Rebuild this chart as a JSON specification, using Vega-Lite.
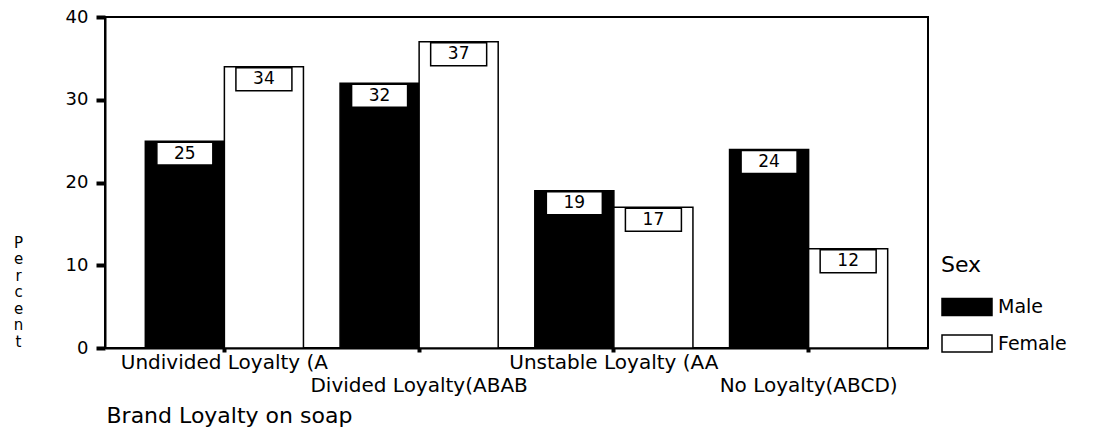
{
  "$schema": "https://vega.github.io/schema/vega-lite/v6.json",
  "width": 823,
  "height": 331,
  "autosize": {"type": "none"},
  "padding": {"left": 105, "top": 17, "right": 171, "bottom": 89},
  "background": "white",
  "data": {
    "values": [
      {"loyalty": "Undivided Loyalty (A", "sex": "Male", "percent": 25},
      {"loyalty": "Undivided Loyalty (A", "sex": "Female", "percent": 34},
      {"loyalty": "Divided Loyalty(ABAB", "sex": "Male", "percent": 32},
      {"loyalty": "Divided Loyalty(ABAB", "sex": "Female", "percent": 37},
      {"loyalty": "Unstable Loyalty (AA", "sex": "Male", "percent": 19},
      {"loyalty": "Unstable Loyalty (AA", "sex": "Female", "percent": 17},
      {"loyalty": "No Loyalty(ABCD)", "sex": "Male", "percent": 24},
      {"loyalty": "No Loyalty(ABCD)", "sex": "Female", "percent": 12}
    ]
  },
  "encoding": {
    "x": {
      "field": "loyalty",
      "type": "nominal",
      "sort": ["Undivided Loyalty (A", "Divided Loyalty(ABAB", "Unstable Loyalty (AA", "No Loyalty(ABCD)"],
      "scale": {"paddingInner": 0.188, "paddingOuter": 0.207},
      "axis": {
        "title": "Brand Loyalty on soap",
        "titleFont": "DejaVu Sans",
        "titleFontSize": 22,
        "titleFontWeight": "normal",
        "titleColor": "black",
        "titleAlign": "left",
        "titleAnchor": "start",
        "titleX": 1,
        "titleY": 74,
        "titleBaseline": "alphabetic",
        "labelAngle": 0,
        "labelAlign": "center",
        "labelBaseline": "alphabetic",
        "labelFont": "DejaVu Sans",
        "labelFontSize": 20,
        "labelColor": "black",
        "labelLimit": 0,
        "labelOverlap": false,
        "labelPadding": {
          "condition": {"test": "indexof(['Divided Loyalty(ABAB','No Loyalty(ABCD)'], datum.value) >= 0", "value": 39},
          "value": 16
        },
        "tickSize": 4,
        "tickWidth": 4,
        "tickColor": "black",
        "domainColor": "black",
        "domainWidth": 2
      }
    },
    "xOffset": {
      "field": "sex",
      "type": "nominal",
      "sort": ["Male", "Female"],
      "scale": {"paddingInner": 0, "paddingOuter": 0}
    },
    "y": {
      "field": "percent",
      "type": "quantitative",
      "scale": {"domain": [0, 40], "nice": false},
      "axis": {
        "values": [0, 10, 20, 30, 40],
        "grid": false,
        "tickSize": 9,
        "tickWidth": 4,
        "tickColor": "black",
        "domainColor": "black",
        "domainWidth": 2,
        "labelFont": "DejaVu Sans",
        "labelFontSize": 18,
        "labelColor": "black",
        "labelPadding": 8,
        "labelBaseline": "middle",
        "title": ["P", "e", "r", "c", "e", "n", "t"],
        "titleFont": "DejaVu Sans",
        "titleFontSize": 15,
        "titleFontWeight": "normal",
        "titleColor": "black",
        "titleAngle": 0,
        "titleAlign": "center",
        "titleBaseline": "top",
        "titleX": -87,
        "titleY": 218,
        "titleLineHeight": 16.5
      }
    }
  },
  "layer": [
    {
      "mark": {"type": "bar", "stroke": "black", "strokeWidth": 1.5},
      "encoding": {
        "fill": {
          "field": "sex",
          "type": "nominal",
          "sort": ["Male", "Female"],
          "scale": {"domain": ["Male", "Female"], "range": ["black", "white"]},
          "legend": {
            "orient": "none",
            "legendX": 836,
            "legendY": 238,
            "title": "Sex",
            "titleFont": "DejaVu Sans",
            "titleFontSize": 22,
            "titleFontWeight": "normal",
            "titleColor": "black",
            "titlePadding": 16.5,
            "labelFont": "DejaVu Sans",
            "labelFontSize": 19,
            "labelColor": "black",
            "labelOffset": 30,
            "symbolType": "M-1,-0.68H3V0.68H-1Z",
            "symbolSize": 625,
            "symbolStrokeColor": "black",
            "symbolStrokeWidth": 1.5,
            "symbolOpacity": 1,
            "rowPadding": 11.5
          }
        }
      }
    },
    {
      "mark": {
        "type": "point",
        "shape": "M-1,-0.41H1V0.41H-1Z",
        "size": 3136,
        "filled": true,
        "fill": "white",
        "stroke": "black",
        "strokeWidth": 1.5,
        "opacity": 1,
        "fillOpacity": 1,
        "yOffset": 12.5
      }
    },
    {
      "mark": {
        "type": "text",
        "font": "DejaVu Sans",
        "fontSize": 17,
        "baseline": "middle",
        "align": "center",
        "yOffset": 12.5,
        "color": "black"
      },
      "encoding": {"text": {"field": "percent", "type": "quantitative"}}
    }
  ],
  "config": {
    "view": {"stroke": "black", "strokeWidth": 2}
  }
}
